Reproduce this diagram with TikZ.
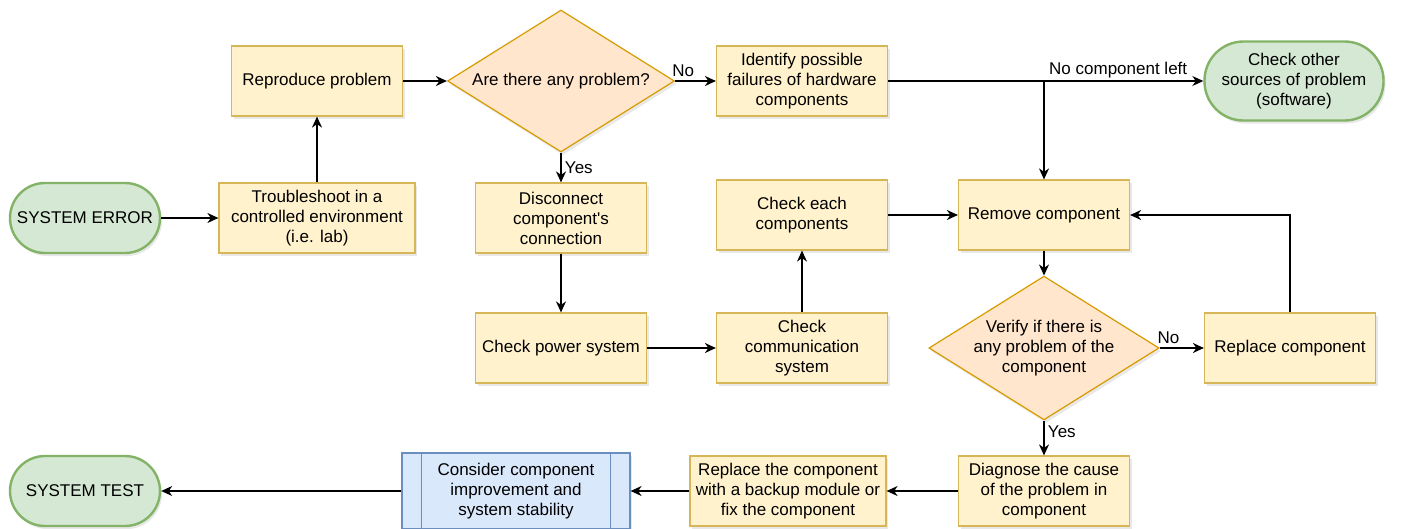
\documentclass[tikz,border=0pt]{standalone}
\usepackage{fontspec}
\setmainfont{Liberation Sans}
\usepackage{xcolor}
\usetikzlibrary{shapes,arrows,arrows.meta,shadows}
\definecolor{boxfill}{HTML}{FFF2CC}
\definecolor{boxline}{HTML}{D6B656}
\definecolor{decfill}{HTML}{FFE6CC}
\definecolor{decline}{HTML}{D79B00}
\definecolor{endfill}{HTML}{D5E8D4}
\definecolor{endline}{HTML}{82B366}
\definecolor{subfill}{HTML}{DAE8FC}
\definecolor{subline}{HTML}{6C8EBF}
\tikzstyle{softshadow} = [drop shadow={shadow xshift=2pt, shadow yshift=-3pt, opacity=0.18}]
\tikzstyle{block} = [rectangle, draw=boxline, fill=boxfill, line width=1.2pt, align=center, minimum width=171pt, minimum height=70pt, inner sep=2pt, softshadow]
\tikzstyle{decision} = [diamond, draw=decline, fill=decfill, line width=1.2pt, align=center, minimum width=227pt, minimum height=142pt, inner sep=0pt, shape aspect=1.6, softshadow]
\tikzstyle{terminal} = [rectangle, rounded corners=35pt, draw=endline, fill=endfill, line width=2.4pt, align=center, minimum width=150pt, minimum height=70pt, softshadow]
\tikzstyle{subproc} = [rectangle, draw=subline, fill=subfill, line width=1.2pt, align=center, minimum width=228pt, minimum height=76pt, softshadow]
\tikzstyle{line} = [draw, line width=1.3pt, -{Stealth[length=11pt, width=10pt, inset=3.5pt]}]

\begin{document}
\begin{tikzpicture}[font=\fontsize{17}{20}\selectfont]
    \useasboundingbox (0pt,0pt) rectangle (1403pt,-528pt);
    % Place nodes
    \node [terminal] (syserror) at (85pt,-218pt) {SYSTEM ERROR};
    \node [block, minimum width=196pt, right of=syserror, node distance=232pt] (troubleshoot) {Troubleshoot in a\\controlled environment\\(i.e. lab)};
    \node [block, above of=troubleshoot, node distance=137pt] (reproduce) {Reproduce problem};
    \node [decision, right of=reproduce, node distance=244pt] (anyproblem) {Are there any problem?};
    \node [block, right of=anyproblem, node distance=241pt] (identify) {Identify possible\\failures of hardware\\components};
    \node [terminal, minimum width=179pt, minimum height=79pt, rounded corners=39pt, right of=identify, node distance=492pt] (othersrc) {Check other\\sources of problem\\(software)};
    \node [block, below of=anyproblem, node distance=137pt] (disconnect) {Disconnect\\component\textquotesingle s\\connection};
    \node [block, below of=identify, node distance=134pt] (checkeach) {Check each\\components};
    \node [block, right of=checkeach, node distance=242pt] (remove) {Remove component};
    \node [block, below of=disconnect, node distance=130pt] (power) {Check power system};
    \node [block, right of=power, node distance=241pt] (comm) {Check\\communication\\system};
    \node [decision, below of=remove, node distance=133pt] (verify) {Verify if there is\\any problem of the\\component};
    \node [block, right of=verify, node distance=246pt] (replace) {Replace component};
    \node [block, below of=verify, node distance=143pt] (diagnose) {Diagnose the cause\\of the problem in\\component};
    \node [block, minimum width=196pt, left of=diagnose, node distance=256pt] (backup) {Replace the component\\with a backup module or\\fix the component};
    \node [subproc, left of=backup, node distance=272pt] (consider) {Consider component\\improvement and\\system stability};
    \node [terminal, left of=consider, node distance=431pt] (systest) {SYSTEM TEST};
    \draw [subline, line width=1.2pt] ([xshift=20pt]consider.north west) -- ([xshift=20pt]consider.south west);
    \draw [subline, line width=1.2pt] ([xshift=-20pt]consider.north east) -- ([xshift=-20pt]consider.south east);
    % Draw edges
    \path [line] (syserror) -- (troubleshoot);
    \path [line] (troubleshoot) -- (reproduce);
    \path [line] (reproduce) -- (anyproblem);
    \path [line] (anyproblem.east) -- (identify.west) node[pos=0.2, above] {No};
    \path [line] (anyproblem.south) -- (disconnect.north) node[pos=0.5, right] {Yes};
    \path [line] (identify.east) -- (othersrc.west) node[pos=0.73, above, inner sep=2pt] {No component left};
    \path [line] (identify.east) -| (remove.north);
    \path [line] (disconnect) -- (power);
    \path [line] (power) -- (comm);
    \path [line] (comm) -- (checkeach);
    \path [line] (checkeach) -- (remove);
    \path [line] (remove) -- (verify);
    \path [line] (verify.east) -- (replace.west) node[pos=0.2, above] {No};
    \path [line] (replace.north) |- (remove.east);
    \path [line] (verify.south) -- (diagnose.north) node[pos=0.33, right] {Yes};
    \path [line] (diagnose) -- (backup);
    \path [line] (backup) -- (consider);
    \path [line] (consider) -- (systest);
\end{tikzpicture}
\end{document}
